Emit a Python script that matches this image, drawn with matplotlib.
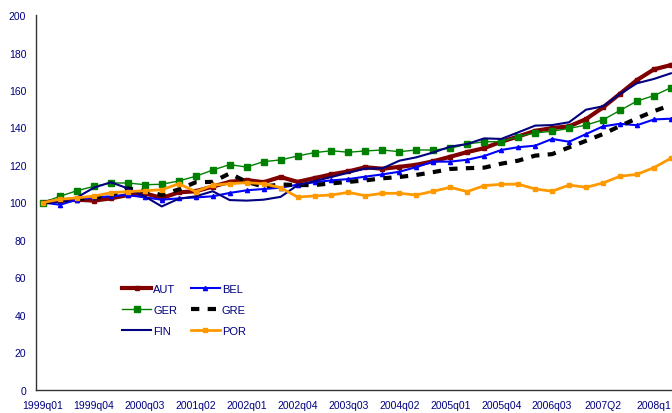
import matplotlib
matplotlib.use("Agg")
import matplotlib.pyplot as plt

plt.rcParams['font.family'] = ['Liberation Sans Narrow', 'Liberation Sans', 'DejaVu Sans']

# quarterly index values, 1999q1 = 100 (1999q1 .. 2008q2)
aut = [100, 101, 101.5, 101, 102.2, 104, 104.9, 102.4, 105.4, 106,
       108.5, 111, 112, 110.8, 113.6, 111, 113, 115, 116.6, 118.8,
       118, 119, 120.1, 122, 124.4, 126.9, 129, 132.4, 135.2,
       138.2, 139.7, 140.6, 144.5, 150.7, 158, 165.3, 171, 173.3]
bel = [100, 98.8, 101.5, 102.7, 103.3, 104, 102.7, 101.5, 102.2, 102.7,
       103.3, 105.1, 106.5, 107.2, 107.9, 109.5, 110.8, 111.8, 112.5, 113.8,
       115, 116.4, 118.9, 121.8, 121.8, 122.8, 124.8, 128, 129.5,
       130.3, 133.9, 132.4, 136.5, 140.6, 142, 141.2, 144.3, 144.7]
ger = [100, 103.3, 106.3, 108.6, 110.4, 110.4, 109.5, 109.7, 111.5, 114.0,
       117.3, 120.2, 118.9, 121.8, 122.7, 124.8, 126.6, 127.6, 126.8, 127.5,
       128, 127.1, 128, 128, 128.9, 131.2, 132.4, 132.4, 135.2,
       137.1, 138, 139.5, 141.3, 144.1, 149.1, 154.1, 157, 161.2]
gre = [100, 101, 102, 102.5, 104, 107.5, 106, 104, 107, 110.8,
       111, 115.5, 111, 108.5, 109.6, 109.3, 109.3, 110.2, 111, 111.8,
       112.9, 113.6, 114.7, 116.2, 117.9, 118.3, 118.6, 120.7, 122.3,
       125, 125.8, 129.4, 132.9, 136.5, 140.8, 144.9, 148.7, 152]
fin = [100, 100.5, 102.7, 107.9, 110.8, 107.5, 103.2, 97.9, 102, 103.3,
       106, 101.3, 101, 101.5, 103, 109.2, 111.4, 113.6, 115.9, 118.1,
       118.2, 122.3, 124.1, 126.7, 129.8, 131.2, 134.2, 133.9, 137.4,
       141, 141.3, 142.8, 149.5, 151.3, 157.9, 163.6, 165.9, 168.9]
por = [100, 101.7, 102.5, 103.4, 105.2, 105.8, 106.3, 106.8, 110, 105.8,
       109.2, 110, 110.6, 110, 107.9, 102.9, 103.5, 104, 105.4, 103.6,
       104.9, 104.9, 104, 106, 108.1, 105.8, 109, 109.7, 109.8,
       107.2, 106, 109.3, 108.1, 110.4, 114, 115, 118.6, 123.6]

tick_labels = ['1999q01', '1999q04', '2000q03', '2001q02', '2002q01', '2002q04',
               '2003q03', '2004q02', '2005q01', '2005q04', '2006q03', '2007Q2', '2008q1']

x = list(range(len(aut)))

fig = plt.figure(figsize=(6.72, 4.14), dpi=100)
ax = fig.add_axes([36 / 672, 23 / 414, 636 / 672, 375 / 414])

l_aut, = ax.plot(x, aut, color='#800000', lw=3, marker='s', ms=2.5, label='AUT')
l_bel, = ax.plot(x, bel, color='#0000FF', lw=1.5, marker='^', ms=3, label='BEL')
l_ger, = ax.plot(x, ger, color='#008000', lw=1, marker='s', ms=5, label='GER')
l_gre, = ax.plot(x, gre, color='black', lw=3, linestyle=(0, (2, 2)), label='GRE')
l_fin, = ax.plot(x, fin, color='#000080', lw=1.5, label='FIN')
l_por, = ax.plot(x, por, color='#FF9900', lw=2, marker='s', ms=3.5, label='POR')

ax.set_ylim(0, 200)
ax.set_yticks(range(0, 201, 20))
ax.set_xlim(-7 / 16.97, 629 / 16.97)
ax.set_xticks(range(0, 37, 3))
ax.set_xticklabels(tick_labels)

for s in ['top', 'right']:
    ax.spines[s].set_visible(False)
for s in ['left', 'bottom']:
    ax.spines[s].set_color('#333333')
    ax.spines[s].set_linewidth(1)
ax.tick_params(length=0, labelsize=7.5, labelcolor='#000080', pad=7)

# legend fills column-wise, so order handles to read AUT BEL / GER GRE / FIN POR
handles = [l_aut, l_ger, l_fin, l_bel, l_gre, l_por]
ax.legend(handles=handles, labels=[h.get_label() for h in handles],
          loc='upper left', bbox_to_anchor=(0.12, 0.31), ncol=2, frameon=False,
          fontsize=8, labelcolor='#000080', handlelength=2.6, handletextpad=0.2,
          columnspacing=1.2, labelspacing=1.0)

fig.savefig('out.png', dpi=100)
